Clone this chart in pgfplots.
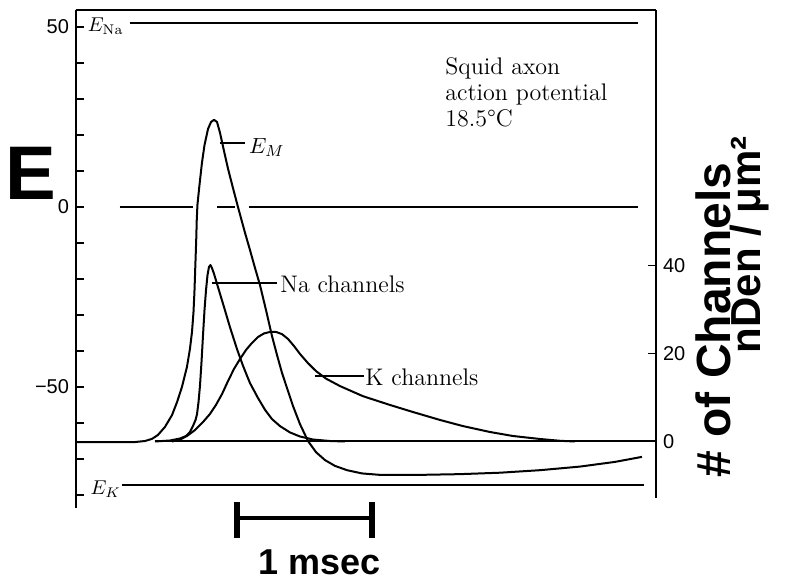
\documentclass[border=0pt]{standalone}
\usepackage{fontspec}
\usepackage{pgfplots}
\pgfplotsset{compat=1.18}
\newfontfamily\tickfont{Liberation Sans}
\newfontfamily\handfont{Liberation Sans}
\begin{document}
\begin{tikzpicture}
\useasboundingbox (-38pt,-37pt) rectangle (355pt,254pt);
% ---------- membrane potential axis (mV) ----------
\begin{axis}[
  at={(0,0)}, anchor=south west,
  width=290pt, height=249pt, scale only axis,
  xmin=0, xmax=4.265, ymin=-83.6, ymax=54.7,
  axis x line*=top, axis y line*=left,
  axis line style={-, line width=1pt},
  xtick=\empty,
  ytick={-50,0,50}, yticklabels={−50,0,50},
  minor ytick={-80,-70,-60,-40,-30,-20,-10,10,20,30,40},
  tick align=inside, major tick length=4pt, minor tick length=4pt,
  tick style={line width=0.8pt, black},
  yticklabel style={font=\tickfont\fontsize{10}{10}\selectfont},
  /pgf/number format/assume math mode=true,
  clip=false,
]
% reference lines
\addplot[black, line width=1pt] coordinates {(0.397,51.1) (4.13,51.1)};
\addplot[black, line width=1pt] coordinates {(0.338,-77.3) (4.18,-77.3)};
\addplot[black, line width=0.9pt] coordinates {(0.32,0) (0.86,0)};
\addplot[black, line width=0.9pt] coordinates {(1.04,0) (1.17,0)};
\addplot[black, line width=0.9pt] coordinates {(1.27,0) (4.13,0)};
% membrane potential E_M
\addplot[black, line width=1pt, line join=round] coordinates {
(0,-65.28) (0.434,-65.28) (0.507,-65.0) (0.559,-64.4) (0.603,-63.3) (0.654,-61.1)
(0.706,-57.8) (0.743,-54.2) (0.779,-50.0) (0.816,-44.4) (0.838,-39.4) (0.853,-34.7)
(0.864,-29.2) (0.871,-23.6) (0.877,-16.9) (0.884,-9.2) (0.888,-3.6) (0.893,0.6)
(0.908,6.1) (0.926,12.2) (0.945,17.2) (0.971,21.7) (0.993,23.6) (1.015,24.2)
(1.037,23.6) (1.059,20.6) (1.088,15.6) (1.118,10.6) (1.154,5.3) (1.191,0)
(1.243,-7.2) (1.279,-11.9) (1.316,-16.9) (1.353,-21.7) (1.397,-28.6) (1.441,-35.8)
(1.478,-41.1) (1.515,-46.1) (1.559,-51.1) (1.596,-55.3) (1.647,-60.3) (1.706,-65.0)
(1.765,-68.1) (1.831,-70.3) (1.904,-71.9) (1.993,-73.1) (2.103,-74.0) (2.235,-74.4)
(2.529,-74.4) (2.824,-74.2) (3.118,-73.8) (3.412,-73.1) (3.706,-72.1) (3.963,-70.8)
(4.162,-69.4)};
% labels
\node[anchor=west, inner sep=0, font=\fontsize{10}{10}\selectfont] at (axis cs:0.085,50.3) {$E_{\mathrm{Na}}$};
\node[anchor=west, inner sep=0, font=\fontsize{10}{10}\selectfont] at (axis cs:0.105,-78.3) {$E_{K}$};
\node[anchor=west, inner sep=0, font=\fontsize{11}{11}\selectfont] at (axis cs:1.27,16.5) {$E_{M}$};
\draw[line width=0.9pt] (axis cs:1.06,17.8) -- (axis cs:1.245,17.8);
\draw[line width=0.9pt] (axis cs:1.0,-21.1) -- (axis cs:1.478,-21.1);
\node[anchor=west, inner sep=0, font=\fontsize{12}{12}\selectfont] at (axis cs:1.5,-21.4) {Na channels};
\draw[line width=0.9pt] (axis cs:1.757,-47) -- (axis cs:2.118,-47);
\node[anchor=west, inner sep=0, font=\fontsize{12}{12}\selectfont] at (axis cs:2.125,-47.2) {K channels};
\node[anchor=north west, align=left, inner sep=0, font=\fontsize{12}{13}\selectfont] at (axis cs:2.713,41.5)
  {Squid axon\\action potential\\18.5°C};
% handwritten axis letter
\node[font=\handfont\bfseries\fontsize{38}{38}\selectfont] at (axis cs:-0.33,9.4) {E};
% scale bar 1 msec
\draw[line width=2.4pt] (axis cs:1.184,-86.4) -- (axis cs:2.176,-86.4);
\draw[line width=3pt] (axis cs:1.184,-81.9) -- (axis cs:1.184,-91.9);
\draw[line width=3pt] (axis cs:2.176,-81.9) -- (axis cs:2.176,-91.9);
\node[font=\handfont\bfseries\fontsize{18}{18}\selectfont] at (axis cs:1.79,-98.6) {1 msec};
\end{axis}
% ---------- channel density axis ----------
\begin{axis}[
  at={(0,5pt)}, anchor=south west,
  width=290pt, height=244pt, scale only axis,
  xmin=0, xmax=4.265, ymin=-12.84, ymax=98.07,
  axis x line=none, axis y line*=right,
  axis line style={-, line width=1pt},
  ytick={0,20,40},
  tick align=inside, major tick length=4pt,
  tick style={line width=0.8pt, black},
  yticklabel style={font=\tickfont\fontsize{10}{10}\selectfont},
  /pgf/number format/assume math mode=true,
  clip=false,
]
\addplot[black, line width=1pt] coordinates {(0.58,0) (4.265,0)};
% Na channels
\addplot[black, line width=1pt, line join=round] coordinates {
(0.581,0) (0.691,0.23) (0.765,0.68) (0.809,1.25) (0.838,2.16) (0.860,3.52) (0.879,4.89)
(0.890,6.25) (0.901,8.98) (0.912,12.8) (0.923,18.1) (0.934,24.2) (0.945,29.9) (0.956,34.4)
(0.967,37.8) (0.978,39.7) (0.989,40.1) (1.0,39.4) (1.015,38.1) (1.044,35.1) (1.088,30.6)
(1.132,26.0) (1.184,21.0) (1.228,17.2) (1.279,13.3) (1.338,9.9) (1.390,7.2) (1.441,5.1)
(1.5,3.5) (1.574,2.05) (1.647,1.14) (1.743,0.45) (1.868,0.11) (1.978,0)};
% K channels
\addplot[black, line width=1pt, line join=round] coordinates {
(0.706,0) (0.765,0.45) (0.816,1.25) (0.875,2.6) (0.934,4.43) (0.985,6.25) (1.029,8.3)
(1.074,10.8) (1.118,13.75) (1.162,16.5) (1.206,18.75) (1.250,20.8) (1.294,22.4) (1.338,23.75)
(1.382,24.55) (1.426,24.9) (1.471,24.9) (1.515,24.4) (1.559,23.3) (1.603,21.7) (1.647,19.9)
(1.706,17.8) (1.765,16.0) (1.838,14.3) (1.941,12.6) (2.110,10.3) (2.309,8.3) (2.478,6.7)
(2.676,4.9) (2.846,3.5) (3.044,2.16) (3.213,1.25) (3.412,0.57) (3.559,0.16) (3.669,0)};
% handwritten right-hand axis label
\node[rotate=90, font=\handfont\bfseries\fontsize{24}{24}\selectfont] at (axis cs:4.684,27.6) {\# of Channels};
\node[rotate=90, font=\handfont\bfseries\fontsize{21}{21}\selectfont] at (axis cs:4.956,44.7) {nDen / μm²};
\end{axis}
\end{tikzpicture}
\end{document}
